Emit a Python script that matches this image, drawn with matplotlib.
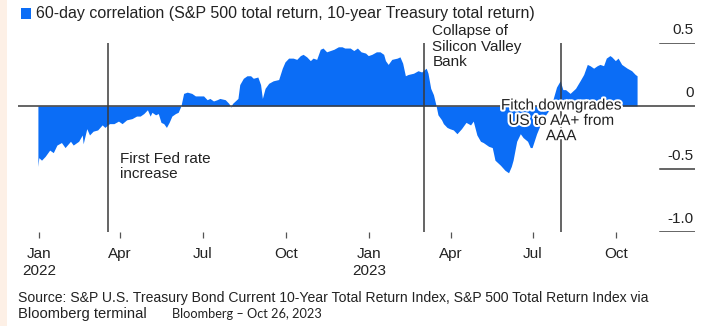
import matplotlib
matplotlib.use("Agg")
import matplotlib.pyplot as plt
import matplotlib.patheffects as pe
from matplotlib.patches import Rectangle
import pandas as pd

plt.rcParams['font.family'] = ['Liberation Sans', 'DejaVu Sans']

# 60-day rolling correlation, S&P 500 total return vs 10-year Treasury total return
start = pd.Timestamp('2022-01-01')
day_offsets = [
    -1, 0, 3, 7, 12, 16, 20, 25, 29, 35, 38, 44, 48, 49, 53, 56, 60, 65, 70, 73,
    78, 83, 88, 92, 97, 103, 108, 112, 116, 120, 123, 125, 129, 132, 135, 138, 141, 144, 147, 151,
    154, 157, 160, 164, 169, 173, 178, 182, 186, 189, 193, 197, 200, 206, 210, 212, 214, 217, 220, 222,
    226, 230, 234, 237, 242, 245, 247, 250, 254, 259, 265, 269, 272, 276, 281, 285, 289, 292, 296, 300,
    303, 307, 311, 314, 318, 322, 326, 331, 335, 338, 344, 348, 352, 356, 361, 364, 368, 373, 377, 381,
    383, 386, 390, 396, 399, 402, 405, 408, 414, 419, 423, 428, 430, 433, 436, 439, 441, 445, 447, 451,
    454, 458, 462, 467, 472, 477, 480, 484, 488, 491, 497, 501, 504, 510, 515, 519, 522, 524, 528, 532,
    535, 540, 543, 545, 550, 554, 559, 565, 568, 572, 576, 579, 582, 587, 593, 598, 602, 606, 609, 613,
    617, 620, 624, 627, 631, 633, 637, 640, 644, 650, 655, 659, 661,
]
correlation = [
    -0.48, -0.41, -0.43, -0.40, -0.35, -0.37, -0.31, -0.29, -0.33, -0.28, -0.31, -0.28, -0.23, -0.30, -0.18, -0.23, -0.20, -0.19, -0.15, -0.17,
    -0.14, -0.14, -0.12, -0.14, -0.11, -0.10, -0.08, -0.08, -0.06, -0.03, -0.08, -0.05, -0.07, -0.06, -0.13, -0.14, -0.17, -0.13, -0.08, -0.06,
    -0.05, 0.00, 0.10, 0.11, 0.10, 0.08, 0.08, 0.08, 0.05, 0.06, 0.04, 0.05, 0.06, 0.05, 0.02, -0.01, 0.02, 0.04, 0.06, 0.17,
    0.22, 0.24, 0.24, 0.22, 0.23, 0.17, 0.06, 0.14, 0.18, 0.20, 0.21, 0.30, 0.35, 0.38, 0.38, 0.37, 0.40, 0.41, 0.39, 0.36,
    0.38, 0.37, 0.45, 0.46, 0.43, 0.44, 0.45, 0.47, 0.47, 0.46, 0.46, 0.44, 0.46, 0.43, 0.42, 0.40, 0.41, 0.43, 0.43, 0.41,
    0.36, 0.33, 0.37, 0.38, 0.39, 0.34, 0.24, 0.25, 0.26, 0.28, 0.27, 0.30, 0.26, 0.14, 0.09, 0.00, -0.07, -0.11, -0.14, -0.17,
    -0.18, -0.19, -0.22, -0.18, -0.13, -0.15, -0.12, -0.23, -0.28, -0.29, -0.32, -0.33, -0.43, -0.47, -0.51, -0.53, -0.48, -0.43, -0.28, -0.22,
    -0.25, -0.28, -0.33, -0.33, -0.22, -0.15, -0.08, -0.02, 0.05, 0.15, 0.20, 0.13, 0.13, 0.10, 0.14, 0.20, 0.25, 0.33, 0.32, 0.30,
    0.32, 0.33, 0.32, 0.38, 0.40, 0.39, 0.36, 0.38, 0.33, 0.30, 0.28, 0.25, 0.24,
]
dates = start + pd.to_timedelta(day_offsets, unit='D')

event_dates = ['2022-03-18', '2023-03-03', '2023-08-01']
event_labels = ['First Fed rate\nincrease', 'Collapse of\nSilicon Valley\nBank',
                'Fitch downgrades\nUS to AA+ from\nAAA']

y_levels = [0.5, 0.0, -0.5, -1.0]
y_labels = ['0.5', '0', '-0.5', '-1.0']
tick_dates = ['2022-01-01', '2022-04-01', '2022-07-01', '2022-10-01',
              '2023-01-01', '2023-04-01', '2023-07-01', '2023-10-01']
tick_labels = ['Jan\n2022', 'Apr', 'Jul', 'Oct', 'Jan\n2023', 'Apr', 'Jul', 'Oct']

BLUE = '#0B6DF6'
INK = '#222222'
RULE = '#3a3a3a'
W, H = 710, 326

fig = plt.figure(figsize=(W / 100, H / 100), dpi=100)
fig.patches.append(Rectangle((0, 0), 7 / W, 1, transform=fig.transFigure,
                             facecolor='#FDF0E6', edgecolor='none', zorder=0))

ax = fig.add_axes([18 / W, 1 - 232 / H, 677 / W, 189 / H])
ax.set_facecolor('none')
ax.fill_between(dates, correlation, 0, color=BLUE, linewidth=0, zorder=2)
ax.set_ylim(-1.0, 0.5)
ax.set_xlim(pd.Timestamp('2021-12-09'), pd.Timestamp('2023-12-27'))
for s in ax.spines.values():
    s.set_visible(False)

# zero line across the whole plot, short rules under the other level labels
ax.axhline(0, color=RULE, lw=1.1, zorder=3)
for v in y_levels:
    if v != 0:
        ax.axhline(v, xmin=(660 - 18) / 677, xmax=1, color=RULE, lw=1.1, zorder=3)
for v, lab in zip(y_levels, y_labels):
    ax.annotate(lab, xy=(1, v), xycoords=('axes fraction', 'data'),
                xytext=(-1, 13), textcoords='offset pixels',
                ha='right', va='center', fontsize=11, color=INK)

ax.set_yticks([])
ax.set_xticks(pd.to_datetime(tick_dates))
ax.set_xticklabels(tick_labels, fontsize=11, color=INK, linespacing=1.25)
ax.tick_params(axis='x', length=4, width=0.9, color='#555555', pad=7)

# event markers
offsets = [(12, 0), (8, 0), (0, 0)]
ys = [-0.478, 0.472, -0.118]
aligns = ['left', 'left', 'center']
for d, lab, off, yv, al in zip(event_dates, event_labels, offsets, ys, aligns):
    ax.axvline(pd.Timestamp(d), color=RULE, lw=1.1, zorder=3)
    t = ax.annotate(lab, xy=(pd.Timestamp(d), yv), xytext=off, textcoords='offset pixels',
                    ha=al, va='center', fontsize=11, color=INK, linespacing=1.12,
                    multialignment=al, zorder=5, annotation_clip=False)
    if al == 'center':
        t.set_path_effects([pe.withStroke(linewidth=3, foreground='white')])

# legend swatch and title
fig.patches.append(Rectangle((21 / W, 1 - 18.5 / H), 10 / W, 10 / H, transform=fig.transFigure,
                             facecolor=BLUE, edgecolor='none'))
fig.text(36.5 / W, 1 - 13.5 / H,
         '60-day correlation (S&P 500 total return, 10-year Treasury total return)',
         fontsize=11.55, color=INK, va='center', ha='left')

# source line
fig.text(18 / W, 1 - 298 / H,
         'Source: S&P U.S. Treasury Bond Current 10-Year Total Return Index, S&P 500 Total Return Index via',
         fontsize=10.1, color=INK, va='center', ha='left')
fig.text(18 / W, 1 - 314 / H, 'Bloomberg terminal',
         fontsize=10.6, color=INK, va='center', ha='left')
fig.text(172 / W, 1 - 314 / H, 'Bloomberg \u2013 Oct 26, 2023',
         fontsize=9.2, color=INK, va='center', ha='left', family=['Lato', 'DejaVu Sans'])

fig.savefig('out.png', dpi=100)
